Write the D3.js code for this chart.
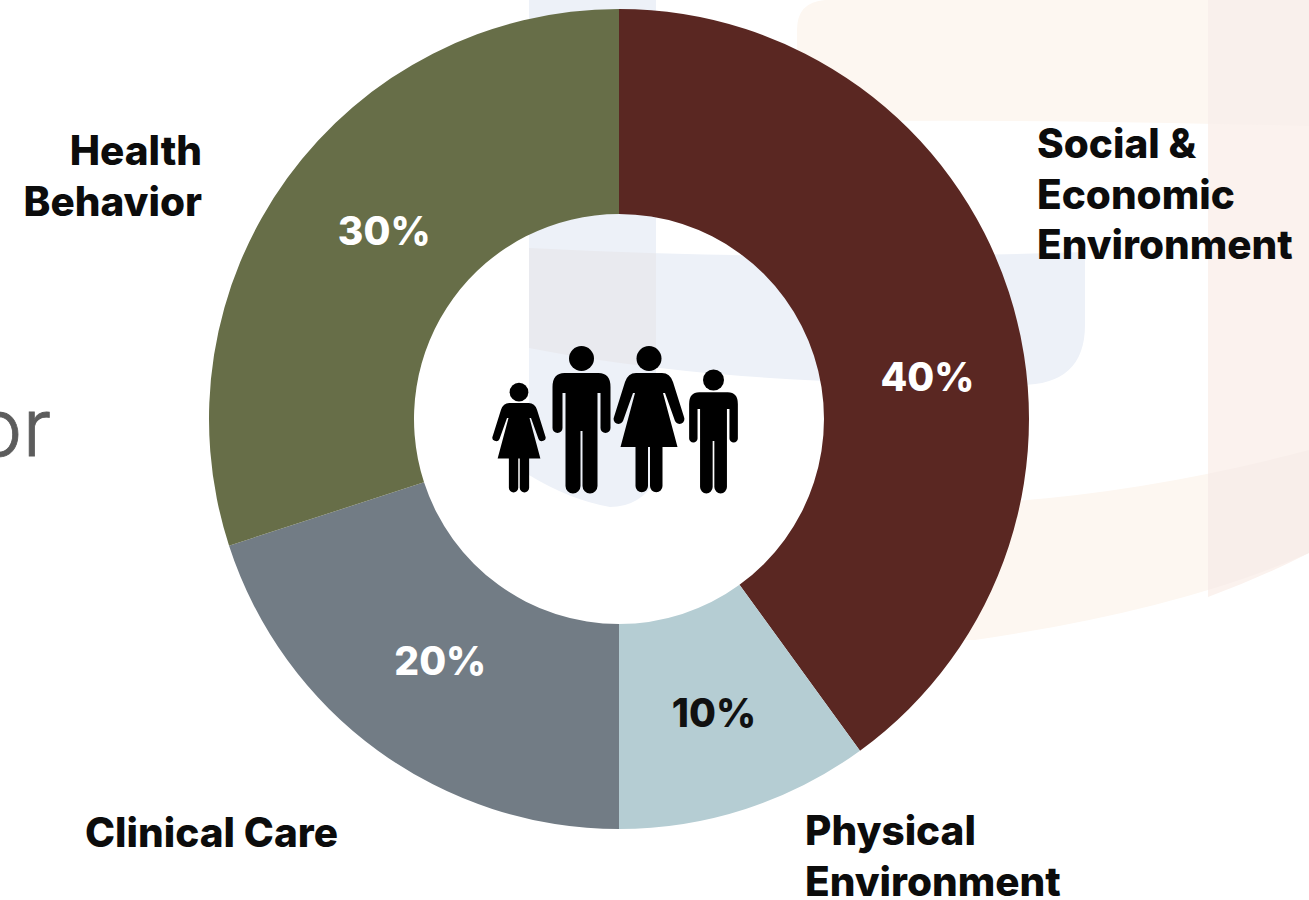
<!DOCTYPE html>
<html>
<head>
<meta charset="utf-8">
<style>
  html, body { margin: 0; padding: 0; background: #fff; overflow: hidden; }
  svg { display: block; }
  text { font-family: Inter, Lato, sans-serif; }
</style>
<script src="https://cdn.jsdelivr.net/npm/d3@7"></script>
</head>
<body>
<svg id="chart" width="1309" height="900"></svg>
<script>
// Determinants of health, in clockwise order from twelve o'clock
const categories = ["Social & Economic Environment", "Physical Environment", "Clinical Care", "Health Behavior"];
const shares = [40, 10, 20, 30];
const sliceColors = ["#5a2722", "#b5cdd3", "#727c85", "#676e48"];
const percentColors = ["#ffffff", "#111111", "#ffffff", "#ffffff"];
const labelLines = [
  ["Social &", "Economic", "Environment"],
  ["Physical", "Environment"],
  ["Clinical Care"],
  ["Health", "Behavior"]
];

const width = 1309, height = 900;
const cx = 619, cy = 419, outerR = 410, innerR = 205;
const svg = d3.select("#chart");

// Faint watermark shapes behind the ring; where two cross, the crossing gets its own tint
const warmTop = "M797,122 Q1000,118 1309,126 L1309,0 L825,0 Q797,2 797,30 Z";
const warmLow = "M940,505 Q1120,500 1309,450 L1309,553 Q1180,610 975,640 L940,640 Z";
const warmColumn = "M1208,0 H1309 V553 Q1260,578 1208,597 Z";
const coolColumn = "M529,0 H656 V480 Q640,507 610,507 Q570,500 529,475 Z";
const coolBand = "M529,248 Q800,262 1085,252 V325 Q1085,385 1020,385 Q800,385 660,368 Q590,360 529,348 Z";

const defs = svg.append("defs");
defs.append("clipPath").attr("id", "clip-warm").append("path").attr("d", warmColumn);
defs.append("clipPath").attr("id", "clip-cool").append("path").attr("d", coolColumn);

const backdrop = svg.append("g");
const wash = (d, fill, clip) => {
  const p = backdrop.append("path").attr("d", d).attr("fill", fill);
  if (clip) p.attr("clip-path", `url(#${clip})`);
};
wash(warmTop, "#fdf7f1");
wash(warmLow, "#fdf7f1");
wash(warmColumn, "#fbf2ee");
wash(warmTop, "#f9f0ec", "clip-warm");
wash(warmLow, "#f8eeea", "clip-warm");
wash(coolColumn, "#edf1f8");
wash(coolBand, "#edf1f8");
wash(coolBand, "#e9eaef", "clip-cool");

// Ring
const pie = d3.pie().value(d => d).sort(null);
const arc = d3.arc().innerRadius(innerR).outerRadius(outerR);
const arcs = pie(shares);
const ring = svg.append("g").attr("transform", `translate(${cx},${cy})`);

ring.selectAll("path.slice").data(arcs).join("path")
  .attr("class", "slice")
  .attr("d", arc)
  .attr("fill", (d, i) => sliceColors[i]);

// Percent labels sit near each slice's centroid, nudged off it
const percentNudge = [[16, 53], [0, 1], [2, -7], [14, -8]];
ring.selectAll("text.pct").data(arcs).join("text")
  .attr("class", "pct")
  .attr("x", (d, i) => arc.centroid(d)[0] + percentNudge[i][0])
  .attr("y", (d, i) => arc.centroid(d)[1] + percentNudge[i][1])
  .attr("text-anchor", "middle")
  .attr("dominant-baseline", "central")
  .attr("font-size", 39)
  .attr("font-weight", 800)
  .attr("fill", (d, i) => percentColors[i])
  .text(d => d.value + "%");

// Category labels
const labelAnchors = [
  { x: 1037, y: 158, anchor: "start" },
  { x: 805, y: 845, anchor: "start" },
  { x: 338, y: 847, anchor: "end" },
  { x: 202, y: 165, anchor: "end" }
];
const lineStep = 50.5;
labelLines.forEach((lines, i) => {
  const a = labelAnchors[i];
  const t = svg.append("text")
    .attr("text-anchor", a.anchor)
    .attr("font-size", 40.5)
    .attr("font-weight", 800)
    .attr("fill", "#0c0c0c");
  lines.forEach((line, j) => {
    t.append("tspan").attr("x", a.x).attr("y", a.y + j * lineStep).text(line);
  });
});

// Fragment of a larger heading cut by the left edge
svg.append("text")
  .attr("x", -25).attr("y", 456)
  .attr("font-family", "Lato")
  .attr("font-size", 80).attr("font-weight", 300)
  .attr("fill", "#5c5c5c")
  .attr("stroke", "#5c5c5c").attr("stroke-width", 0.8)
  .text("or");

// Family pictograms, drawn from a 147-tall figure with its feet on one line
const manBody = "M-17,27 H17 Q29,27 29,41 V82 A5,5 0 0 1 19,82 V47 H16 V140 A7.5,7.5 0 0 1 1,140 V85 H-1 V140 A7.5,7.5 0 0 1 -16,140 V47 H-19 V82 A5,5 0 0 1 -29,82 V41 Q-29,27 -17,27 Z";
const womanBody = "M-13,27 H13 Q21,27 24,36 L35,71 A4.8,4.8 0 0 1 26,75 L16,47 L14,47 L28.5,101 H13.5 V140 A6.2,6.2 0 0 1 1,140 V101 H-1 V140 A6.2,6.2 0 0 1 -13.5,140 V101 H-28.5 L-14,47 H-16 L-26,75 A4.8,4.8 0 0 1 -35,71 L-24,36 Q-21,27 -13,27 Z";
const family = [
  { body: womanBody, x: 519, scale: 0.75 },
  { body: manBody, x: 581.5, scale: 1 },
  { body: womanBody, x: 649, scale: 1 },
  { body: manBody, x: 713.5, scale: 0.84 }
];
const feetY = 493;
const figures = svg.append("g").selectAll("g").data(family).join("g")
  .attr("transform", d => `translate(${d.x},${feetY - 147 * d.scale}) scale(${d.scale})`)
  .attr("fill", "#000");
figures.append("circle").attr("cx", 0).attr("cy", 12.5).attr("r", 12.5);
figures.append("path").attr("d", d => d.body);
</script>
</body>
</html>
